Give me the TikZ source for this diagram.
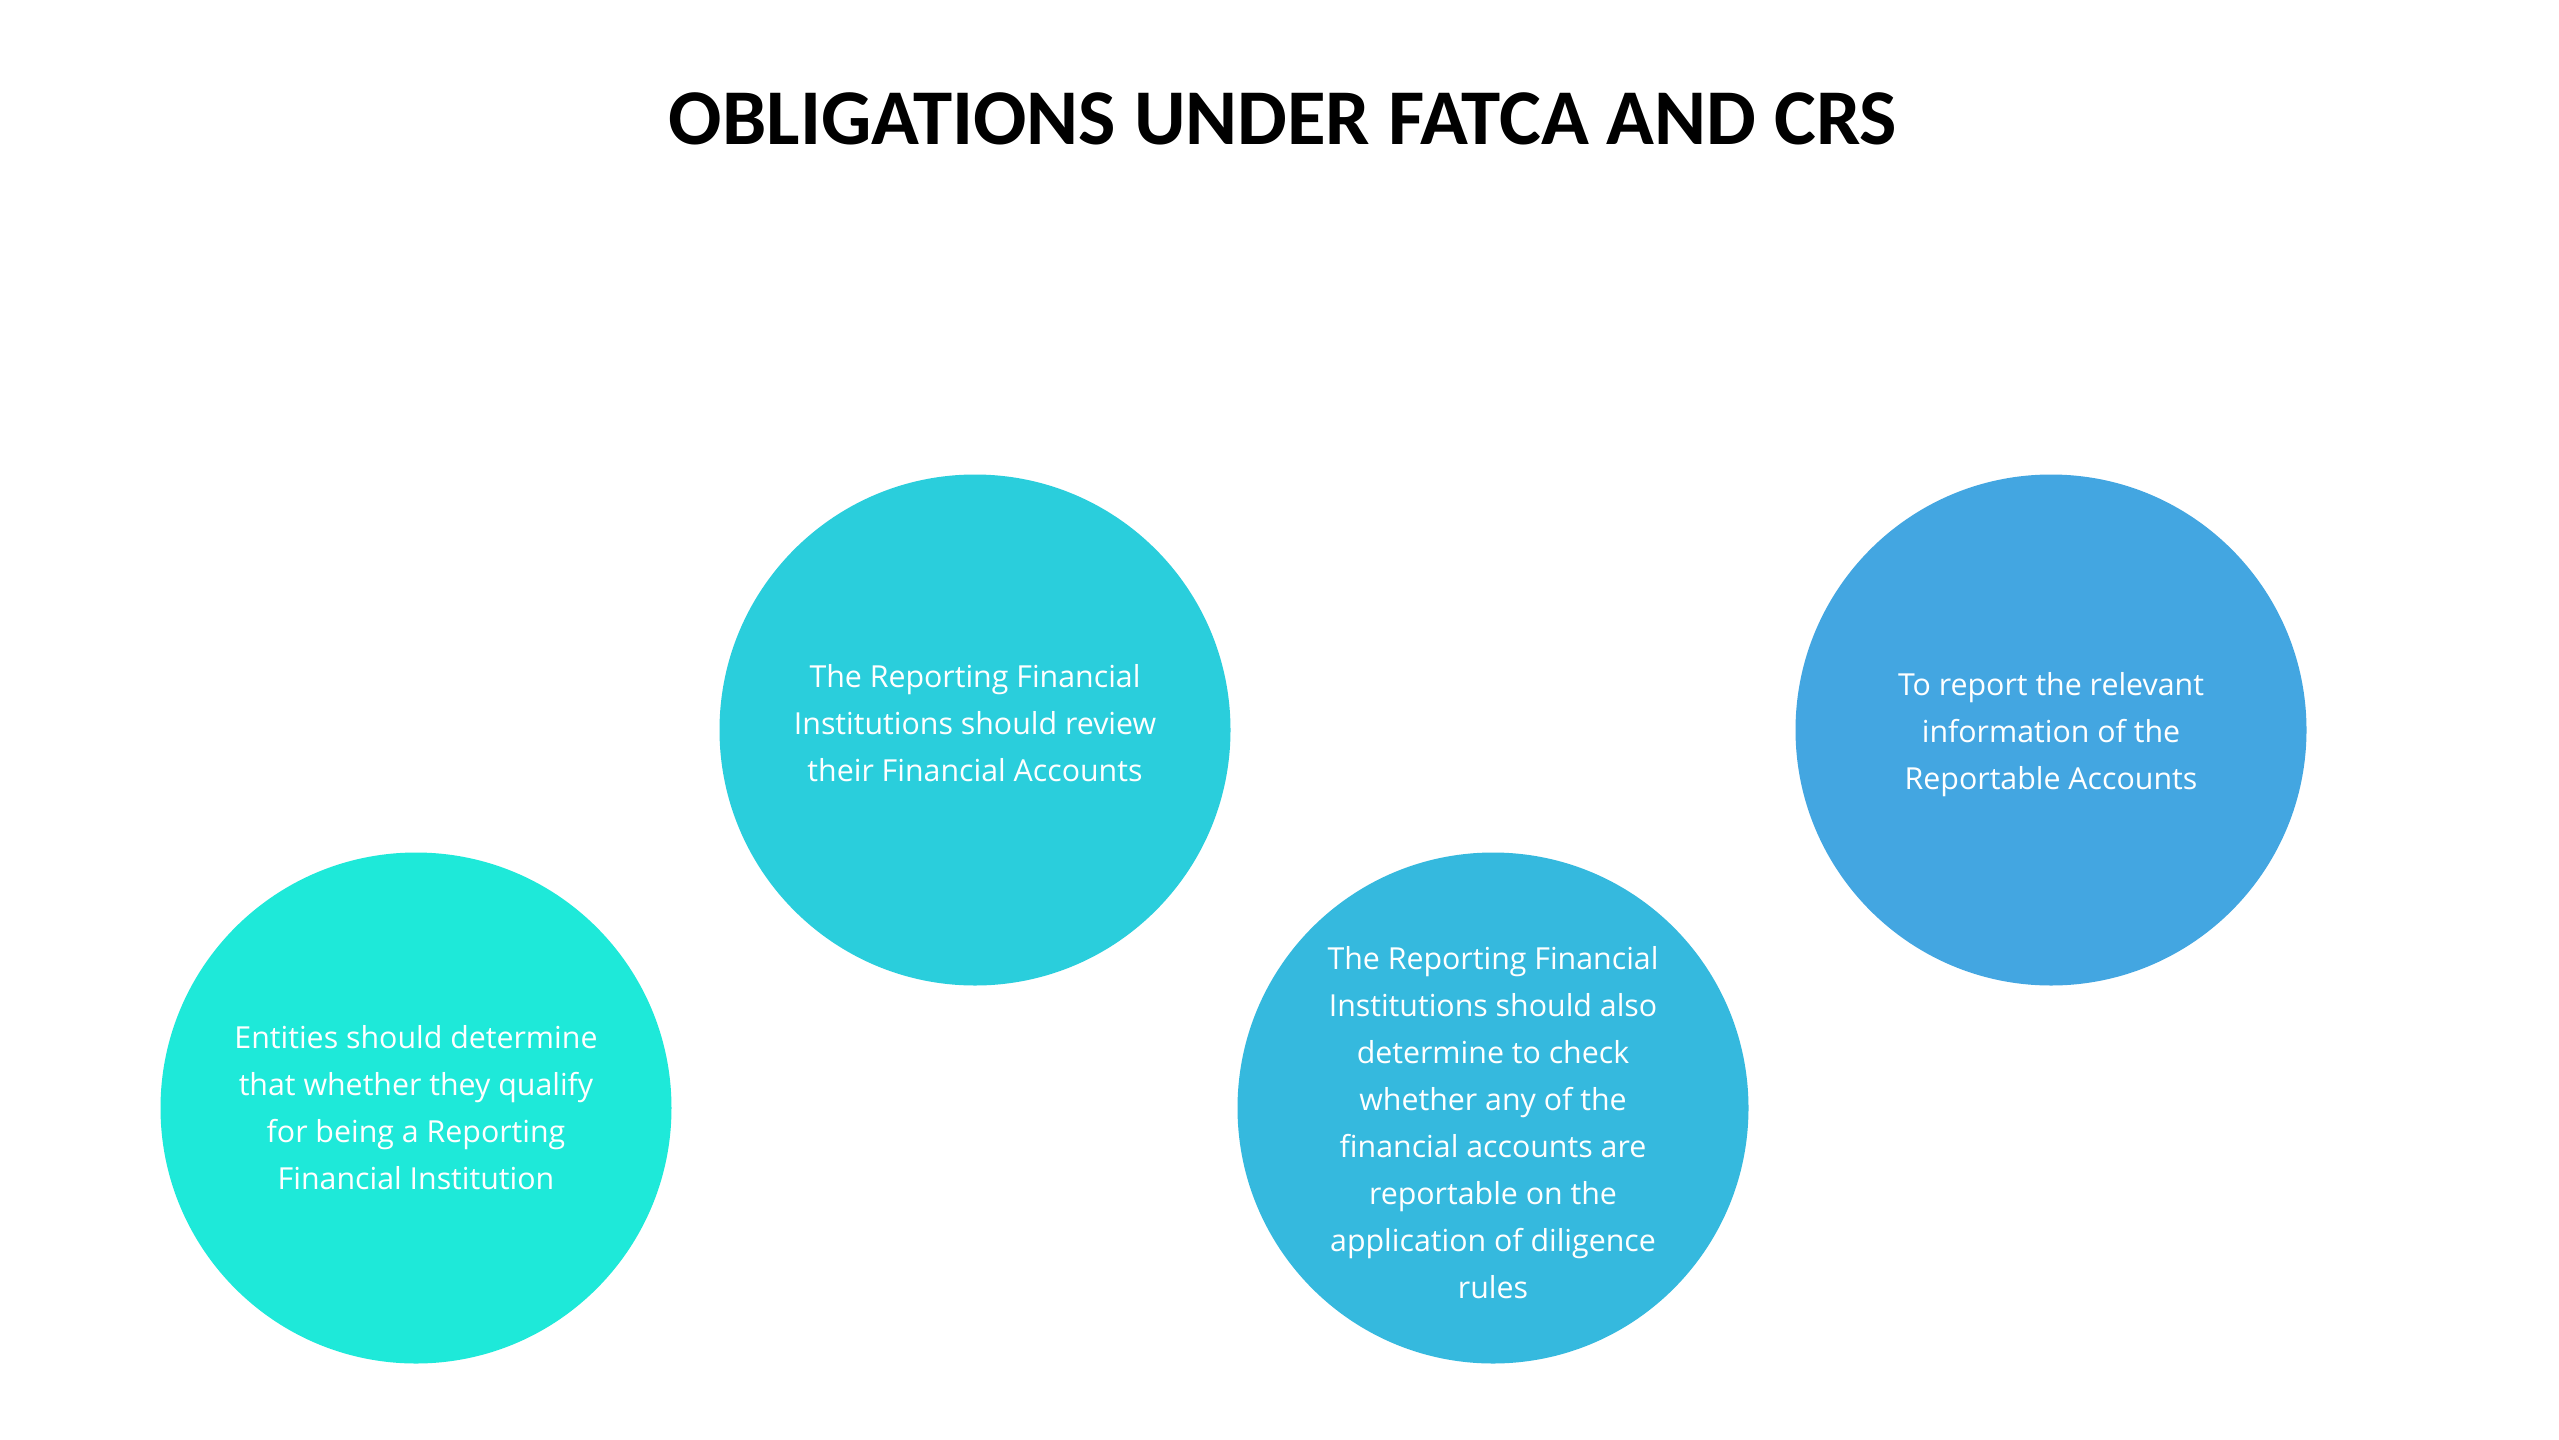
\documentclass[tikz,border=0pt]{standalone}
\usepackage{fontspec}
\setmainfont{Open Sans}
\newfontfamily\titlefont{Carlito}
\definecolor{cA}{HTML}{1EE9D9}
\definecolor{cB}{HTML}{2ACEDC}
\definecolor{cC}{HTML}{35B9DE}
\definecolor{cD}{HTML}{43A6E1}
\tikzset{
  disc/.style={circle, minimum size=153.3pt, inner sep=0pt, draw=none},
  lbl/.style={align=center, text=white, inner sep=0pt,
    font=\fontsize{9.1pt}{14.1pt}\selectfont},
  ttl/.style={anchor=base, inner sep=0pt, font=\titlefont\bfseries\fontsize{23.7pt}{28pt}\selectfont}
}
\begin{document}
\begin{tikzpicture}[x=0.3pt,y=-0.3pt]
\useasboundingbox (0,0) rectangle (2559,1440);
\fill[white] (0,0) rectangle (2559,1440);
\node[ttl] (title) at (1283,144) {OBLIGATIONS UNDER FATCA AND CRS};
\node[disc, fill=cA] (c1) at (416,1108) {};
\node[disc, fill=cB] (c2) at (975,730) {};
\node[disc, fill=cC] (c3) at (1493,1108) {};
\node[disc, fill=cD] (c4) at (2051,730) {};
\node[lbl] (t1) at ([yshift=0pt]c1.center) {Entities should determine\\that whether they qualify\\for being a Reporting\\Financial Institution};
\node[lbl] (t2) at ([yshift=2pt]c2.center) {The Reporting Financial\\Institutions should review\\their Financial Accounts};
\node[lbl] (t3) at ([yshift=-4.5pt]c3.center) {The Reporting Financial\\Institutions should also\\determine to check\\whether any of the\\financial accounts are\\reportable on the\\application of diligence\\rules};
\node[lbl] (t4) at ([yshift=-1.5pt]c4.center) {To report the relevant\\information of the\\Reportable Accounts};
\end{tikzpicture}
\end{document}
